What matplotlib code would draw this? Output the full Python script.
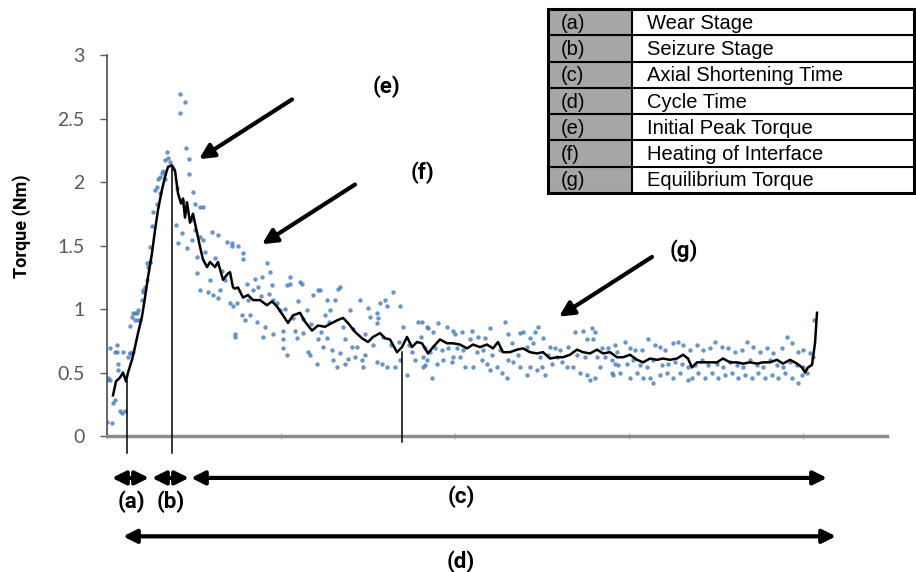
import numpy as np
import matplotlib
matplotlib.use("Agg")
import matplotlib.pyplot as plt
from matplotlib.patches import Rectangle
from matplotlib.ticker import MultipleLocator

# smoothed torque curve (x = sample index, y = torque in Nm)
line_x = [6, 9, 13, 16, 19, 21, 25, 28, 31, 35, 38, 41, 45, 48, 51, 55, 58, 61, 65, 68,
          71, 74, 76, 78, 80, 83, 86, 90, 93, 96, 100, 103, 108, 111, 116, 121, 123, 126, 128, 131,
          136, 141, 146, 153, 160, 165, 170, 176, 181, 186, 193, 198, 205, 211, 218, 225, 230, 236, 241, 248,
          255, 261, 266, 273, 278, 283, 290, 295, 300, 305, 310, 315, 321, 326, 333, 340, 346, 353, 360, 366,
          373, 380, 386, 391, 396, 403, 410, 416, 423, 430, 436, 443, 450, 456, 463, 470, 476, 483, 490, 496,
          503, 510, 516, 523, 530, 536, 543, 550, 556, 563, 570, 576, 581, 585, 590, 596, 603, 610, 616, 623,
          630, 636, 643, 650, 656, 663, 670, 676, 683, 690, 695, 698, 701, 705, 708, 710]
line_y = [0.32, 0.43, 0.46, 0.50, 0.43, 0.50, 0.60, 0.70, 0.81, 0.94, 1.09, 1.25, 1.44, 1.62, 1.78, 1.94, 2.04, 2.12, 2.13, 2.09,
          1.91, 1.83, 1.87, 1.72, 1.84, 1.68, 1.75, 1.60, 1.49, 1.39, 1.33, 1.37, 1.33, 1.37, 1.23, 1.28, 1.29, 1.17, 1.16, 1.17,
          1.09, 1.11, 1.07, 1.07, 1.03, 1.06, 1.02, 0.95, 0.89, 0.95, 0.97, 0.90, 0.83, 0.87, 0.86, 0.89, 0.91, 0.93, 0.89, 0.82,
          0.77, 0.74, 0.78, 0.81, 0.77, 0.76, 0.66, 0.70, 0.78, 0.70, 0.74, 0.73, 0.65, 0.70, 0.76, 0.73, 0.73, 0.72, 0.69, 0.72,
          0.70, 0.72, 0.69, 0.74, 0.66, 0.66, 0.68, 0.69, 0.66, 0.65, 0.66, 0.61, 0.62, 0.62, 0.64, 0.68, 0.66, 0.65, 0.68, 0.65,
          0.66, 0.62, 0.62, 0.64, 0.60, 0.58, 0.61, 0.60, 0.61, 0.60, 0.61, 0.64, 0.61, 0.54, 0.58, 0.58, 0.58, 0.58, 0.61, 0.58,
          0.58, 0.57, 0.58, 0.57, 0.58, 0.58, 0.60, 0.57, 0.60, 0.57, 0.54, 0.50, 0.54, 0.56, 0.73, 0.97]

# raw torque samples
rise_x = [0, 5, 6, 8, 13, 18, 15, 1, 3, 10, 10, 16, 11, 21, 23, 26, 23, 26, 30, 28,
          31, 33, 35, 36, 38, 40, 41, 43, 43, 45, 46, 48, 50, 51, 53, 55, 56, 58, 60, 61,
          63, 50, 53, 58, 8, 0, 3, 11, 23, 25, 28, 31, 36, 40, 43]
rise_y = [0.11, 0.10, 0.26, 0.28, 0.20, 0.20, 0.18, 0.46, 0.69, 0.72, 0.66, 0.66, 0.52, 0.62, 0.65, 0.66, 0.87, 0.97, 0.97, 0.91,
          0.99, 0.91, 1.07, 1.15, 1.17, 1.23, 1.33, 1.37, 1.49, 1.65, 1.76, 1.94, 1.96, 2.02, 2.04, 2.07, 2.09, 2.17, 2.24, 2.19,
          2.16, 1.83, 1.91, 2.02, 0.66, 0.44, 0.44, 0.57, 0.65, 0.94, 0.97, 0.91, 1.13, 1.36, 1.37]

peak_x = [73, 78, 73, 79, 82, 82, 86, 96, 69, 75, 71, 80, 85, 90, 93, 96, 90, 93, 101, 106,
          111, 105, 111, 103, 120, 125, 123, 128, 113, 118, 66, 70, 76, 84, 88, 98, 108, 115, 88, 93]
peak_y = [2.69, 2.63, 2.54, 2.27, 2.18, 2.06, 1.92, 1.80, 1.66, 1.60, 1.52, 1.48, 1.54, 1.41, 1.57, 1.54, 1.28, 1.15, 1.13, 1.11,
          1.09, 1.61, 1.58, 1.23, 1.53, 1.50, 1.05, 0.78, 1.15, 1.23, 2.10, 1.95, 1.85, 1.70, 1.62, 1.45, 1.40, 1.30, 1.83, 1.80]

decay_x = [125, 131, 136, 136, 160, 163, 155, 148, 151, 165, 183, 193, 180, 211, 206, 231, 220, 228, 253, 278,
           280, 293, 261, 270, 243, 223, 218, 200, 191, 173, 166, 141, 130, 126, 135, 138, 143, 150, 158, 156,
           128, 166, 176, 176, 176, 180, 188, 190, 196, 201, 203, 210, 211, 216, 220, 225, 226, 230, 233, 238,
           241, 245, 248, 250, 255, 256, 258, 263, 270, 276, 270, 275, 280, 288, 300, 293, 305, 308, 311, 318,
           320, 316, 296, 271, 238, 183, 195, 213, 233, 273, 286, 140, 146, 154, 162, 170, 178, 186, 196, 204,
           214, 222, 236, 246, 258, 266, 284, 292, 302, 314]
decay_y = [1.52, 1.50, 1.44, 1.39, 1.36, 1.29, 1.25, 1.24, 1.17, 1.19, 1.25, 1.21, 1.19, 1.15, 1.11, 1.16, 1.07, 1.07, 1.07, 1.07,
           1.02, 1.02, 1.01, 0.97, 0.99, 0.99, 0.95, 0.99, 1.06, 0.99, 1.07, 1.07, 1.05, 1.02, 0.95, 0.91, 0.95, 0.90, 0.86, 0.78,
           0.80, 0.80, 0.83, 0.76, 0.69, 0.64, 0.83, 0.77, 0.81, 0.66, 0.64, 0.57, 0.76, 0.70, 0.77, 0.68, 0.60, 0.54, 0.65, 0.57,
           0.61, 0.70, 0.62, 0.70, 0.60, 0.54, 0.64, 0.94, 0.89, 0.78, 0.58, 0.57, 0.54, 0.54, 0.48, 0.60, 0.66, 0.60, 0.90, 0.56,
           0.86, 0.62, 0.86, 0.93, 0.76, 1.20, 1.20, 1.15, 1.17, 1.05, 1.13, 1.20, 1.15, 1.10, 1.12, 1.05, 1.00, 0.93, 0.92, 0.88,
           0.82, 0.90, 0.86, 0.84, 0.80, 0.72, 0.72, 0.74, 0.72, 0.78]

plateau_x = [315, 321, 326, 331, 340, 346, 348, 355, 365, 371, 378, 383, 398, 401, 413, 416, 423, 428, 431, 436,
             443, 468, 476, 485, 488, 486, 480, 495, 501, 316, 320, 325, 330, 336, 345, 346, 353, 358, 366, 375,
             380, 383, 390, 395, 400, 401, 406, 413, 420, 423, 430, 435, 438, 445, 450, 455, 460, 466, 473, 480,
             483, 488, 493, 505, 508, 318, 323, 328, 335, 341, 350, 356, 363, 370, 376, 385, 393, 405, 411, 420,
             426, 433, 441, 448, 453, 461, 470, 478, 490, 498, 510,
             508, 518, 523, 528, 535, 541, 548, 553, 558, 566, 571, 576, 583, 590, 596, 603, 608, 615, 621, 628,
             635, 640, 646, 653, 660, 666, 675, 680, 685, 691, 696, 703, 707, 706, 505, 511, 520, 526, 533, 540,
             546, 555, 561, 568, 575, 581, 588, 595, 601, 610, 616, 623, 630, 636, 643, 650, 656, 663, 670, 676,
             683, 690, 696, 506, 513, 523, 530, 536, 543, 546, 553, 560, 566, 573, 581, 585, 591, 598, 605, 611,
             618, 625, 631, 638, 645, 651, 658, 665, 671, 678, 685, 691, 695, 700]
plateau_y = [0.90, 0.85, 0.82, 0.89, 0.86, 0.83, 0.80, 0.82, 0.83, 0.78, 0.77, 0.85, 0.90, 0.80, 0.81, 0.82, 0.77, 0.82, 0.86, 0.77,
             0.70, 0.82, 0.83, 0.85, 0.82, 0.76, 0.76, 0.69, 0.69, 0.54, 0.60, 0.46, 0.57, 0.60, 0.58, 0.62, 0.62, 0.54, 0.54, 0.60,
             0.57, 0.52, 0.54, 0.50, 0.46, 0.60, 0.58, 0.54, 0.48, 0.54, 0.52, 0.54, 0.48, 0.57, 0.62, 0.58, 0.54, 0.54, 0.50, 0.48,
             0.44, 0.46, 0.54, 0.50, 0.57, 0.69, 0.66, 0.69, 0.68, 0.69, 0.69, 0.68, 0.76, 0.66, 0.68, 0.64, 0.68, 0.73, 0.64, 0.70,
             0.73, 0.62, 0.64, 0.69, 0.68, 0.70, 0.64, 0.62, 0.62, 0.62, 0.66,
             0.72, 0.74, 0.69, 0.68, 0.68, 0.76, 0.72, 0.70, 0.68, 0.73, 0.74, 0.72, 0.68, 0.72, 0.68, 0.69, 0.74, 0.70, 0.69, 0.66,
             0.68, 0.74, 0.70, 0.66, 0.69, 0.65, 0.69, 0.78, 0.73, 0.66, 0.68, 0.65, 0.91, 0.62, 0.60, 0.56, 0.57, 0.60, 0.56, 0.54,
             0.60, 0.56, 0.57, 0.58, 0.57, 0.54, 0.56, 0.60, 0.56, 0.57, 0.54, 0.58, 0.56, 0.54, 0.60, 0.56, 0.54, 0.60, 0.56, 0.54,
             0.58, 0.56, 0.54, 0.48, 0.50, 0.46, 0.50, 0.46, 0.46, 0.42, 0.48, 0.50, 0.46, 0.50, 0.44, 0.46, 0.50, 0.46, 0.50, 0.46,
             0.48, 0.50, 0.46, 0.48, 0.46, 0.50, 0.46, 0.48, 0.46, 0.50, 0.46, 0.42, 0.48, 0.50]

# stage markers: (x, top of the vertical line)
stage_marks = [(20, 0.43), (65, 2.13), (295, 0.66)]

y_ticks = [0, 0.5, 1, 1.5, 2, 2.5, 3]
y_tick_labels = ["0", "0.5", "1", "1.5", "2", "2.5", "3"]

table_keys = ["(a)", "(b)", "(c)", "(d)", "(e)", "(f)", "(g)"]
table_names = ["Wear Stage", "Seizure Stage", "Axial Shortening Time", "Cycle Time",
               "Initial Peak Torque", "Heating of Interface", "Equilibrium Torque"]

W, H = 916, 572
fig = plt.figure(figsize=(W / 100, H / 100), dpi=100)
ax = fig.add_axes([107 / W, (H - 436) / H, 780 / W, 381 / H])

pts_x = rise_x + peak_x + decay_x + plateau_x
pts_y = rise_y + peak_y + decay_y + plateau_y
ax.scatter(pts_x, pts_y, s=10, color="#4f81bd", alpha=0.85, linewidths=0, zorder=2)
ax.plot(line_x, line_y, color="black", lw=1.8, zorder=3)

for i, (mx, top) in enumerate(stage_marks):
    low = -0.05 if i == 2 else -0.13
    ax.plot([mx, mx], [low, top], color="black", lw=1.1, clip_on=False, zorder=3)

ax.set_xlim(0, 780)
ax.set_ylim(0, 3)
ax.set_yticks(y_ticks)
ax.set_yticklabels(y_tick_labels, family="Lato")
ax.xaxis.set_major_locator(MultipleLocator(174))
ax.set_xticklabels([])
ax.tick_params(axis="y", direction="out", length=5, width=1, color="#595959",
               labelsize=14, labelcolor="#595959", pad=11)
ax.tick_params(axis="x", direction="inout", length=5, width=1, color="#c0c0c0")
for s in ["top", "right"]:
    ax.spines[s].set_visible(False)
ax.spines["left"].set_color("#595959")
ax.spines["left"].set_linewidth(1.3)
ax.spines["bottom"].set_color("#8c8c8c")
ax.spines["bottom"].set_linewidth(2.5)

fig.text(22 / W, 1 - 226 / H, "Torque (Nm)", rotation=90, ha="center", va="center",
         family="Roboto", fontweight="bold", fontsize=13)

lab_kw = dict(family="Roboto", fontweight="bold", fontsize=16, ha="center", va="center")

# pointer arrows with their labels
pointers = [("(e)", (185, 2.65), (92, 2.18), (279, 2.75)),
            ("(f)", (248, 1.98), (155, 1.51), (316, 2.07)),
            ("(g)", (545, 1.41), (452, 0.94), (577, 1.46))]
for txt, tail, head, lpos in pointers:
    ax.annotate("", xy=head, xytext=tail,
                arrowprops=dict(arrowstyle="-|>", lw=3, color="black",
                                mutation_scale=22, shrinkA=0, shrinkB=0))
    ax.text(lpos[0], lpos[1], txt, **lab_kw)

# time spans below the axis
spans = [("(a)", 5, 42, -0.33, 24, -0.52),
         ("(b)", 45, 82, -0.33, 64, -0.52),
         ("(c)", 84, 720, -0.33, 354, -0.48),
         ("(d)", 16, 729, -0.79, 354, -0.99)]
for txt, x0, x1, yy, lx, ly in spans:
    ax.annotate("", xy=(x1, yy), xytext=(x0, yy), annotation_clip=False,
                arrowprops=dict(arrowstyle="<|-|>", lw=3, color="black",
                                mutation_scale=20, shrinkA=0, shrinkB=0))
    ax.text(lx, ly, txt, clip_on=False, **lab_kw)

# legend table, drawn in pixel units
tx0, ty0, tw, th = 548, 9, 366, 184
tax = fig.add_axes([tx0 / W, 1 - (ty0 + th) / H, tw / W, th / H])
tax.set_xlim(0, tw)
tax.set_ylim(th, 0)
tax.axis("off")
col1 = 84
rh = th / len(table_keys)
tax.add_patch(Rectangle((0, 0), col1, th, facecolor="#a6a6a6", edgecolor="none"))
for i, (k, n) in enumerate(zip(table_keys, table_names)):
    yc = (i + 0.5) * rh
    tax.text(13, yc + 1, k, family="Liberation Sans", fontsize=14.5, va="center", ha="left")
    tax.text(99, yc + 1, n, family="Liberation Sans", fontsize=14.5, va="center", ha="left")
for i in range(1, len(table_keys)):
    tax.plot([0, tw], [i * rh, i * rh], color="black", lw=1.5)
tax.plot([col1, col1], [0, th], color="black", lw=1.5)
tax.add_patch(Rectangle((0, 0), tw, th, facecolor="none", edgecolor="black", lw=2.2, clip_on=False))

fig.savefig("out.png", dpi=100)
